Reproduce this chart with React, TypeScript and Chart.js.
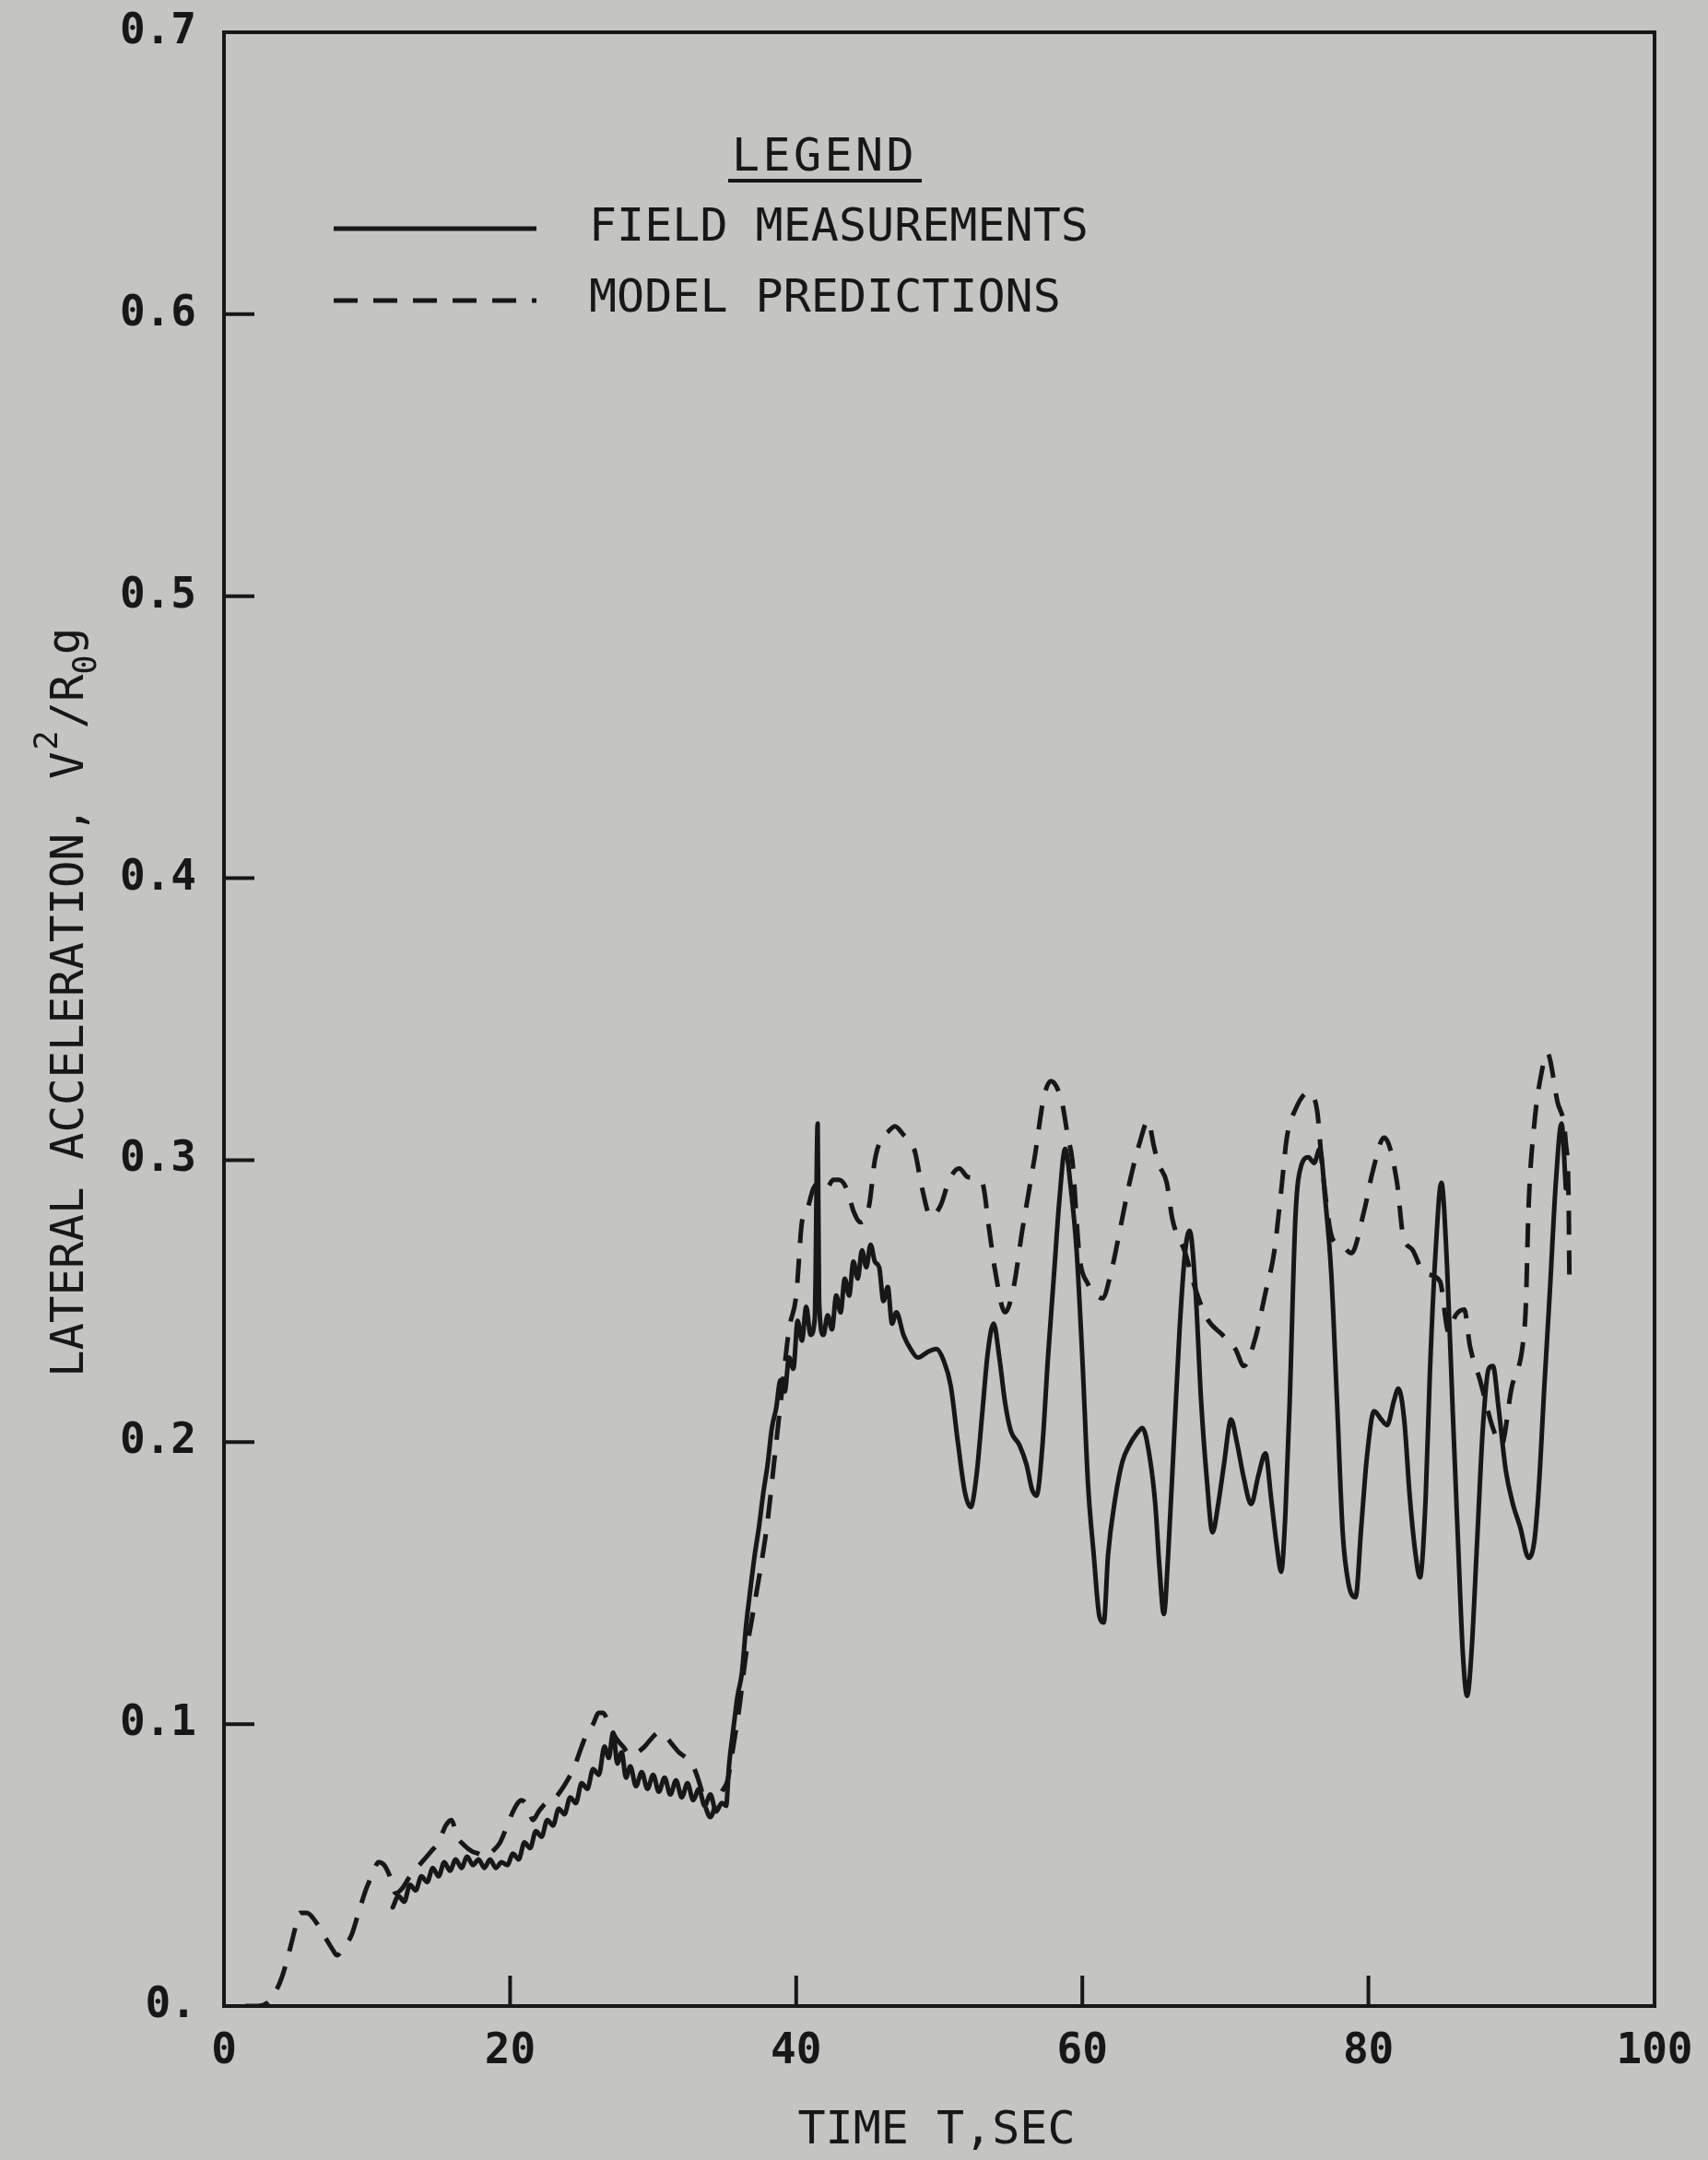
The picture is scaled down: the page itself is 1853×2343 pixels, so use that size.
import { useEffect, useRef } from "react";
import { Chart, registerables } from "chart.js";

Chart.register(...registerables);

// Lateral acceleration record: measured on the test curve vs. model output.
const fieldTime = [
  11.8, 12.2, 12.6, 13.0, 13.4, 13.8, 14.2, 14.6, 15.0, 15.4, 15.8, 16.2, 16.6, 17.0, 17.4, 17.8,
  18.2, 18.6, 19.0, 19.4, 19.8, 20.2, 20.6, 21.0, 21.4, 21.8, 22.2, 22.6, 23.0, 23.4, 23.8, 24.2,
  24.6, 25.0, 25.4, 25.8, 26.2, 26.6, 26.9, 27.2, 27.5, 27.8, 28.1, 28.4, 28.8, 29.2, 29.6, 30.0,
  30.4, 30.8, 31.2, 31.6, 32.0, 32.4, 32.8, 33.2, 33.6, 34.0, 34.4, 34.8, 35.1, 35.3, 35.6, 35.9,
  36.2, 36.5, 36.8, 37.1, 37.4, 37.7, 38.0, 38.3, 38.6, 38.9, 39.2, 39.5, 39.8, 40.1, 40.4, 40.7,
  41.0, 41.3, 41.5, 41.6, 41.9, 42.2, 42.5, 42.8, 43.1, 43.4, 43.7, 44.0, 44.3, 44.6, 44.9, 45.2,
  45.5, 45.8, 46.1, 46.4, 46.7, 47.0, 47.5, 48.0, 48.5, 49.2, 49.8, 50.3, 50.8, 51.3, 51.8, 52.2,
  52.6, 53.0, 53.4, 53.8, 54.2, 54.6, 55.0, 55.6, 56.1, 56.5, 56.8, 57.2, 57.6, 58.0, 58.4, 58.8,
  59.2, 59.6, 60.0, 60.4, 60.8, 61.2, 61.5, 61.8, 62.3, 62.8, 63.3, 63.8, 64.2, 64.7, 65.1, 65.4,
  65.7, 66.0, 66.4, 66.8, 67.2, 67.5, 67.9, 68.3, 68.7, 69.1, 69.5, 69.9, 70.4, 70.8, 71.3, 71.8,
  72.3, 72.8, 73.2, 73.6, 73.9, 74.2, 74.5, 74.9, 75.3, 75.8, 76.2, 76.6, 77.0, 77.4, 77.8, 78.2,
  78.6, 79.1, 79.5, 79.9, 80.4, 80.9, 81.3, 81.8, 82.1, 82.5, 82.9, 83.3, 83.6, 84.0, 84.3, 84.7,
  85.1, 85.5, 85.9, 86.3, 86.6, 86.9, 87.2, 87.6, 88.0, 88.4, 88.7, 89.1, 89.6, 90.1, 90.6, 91.2,
  91.6, 91.9, 92.3, 92.7, 93.1, 93.5, 93.8,
];
const fieldAccel = [
  0.035, 0.039, 0.037, 0.043, 0.041, 0.046, 0.044, 0.049, 0.046, 0.051, 0.048, 0.052, 0.049, 0.053, 0.05, 0.052,
  0.049, 0.052, 0.049, 0.051, 0.05, 0.054, 0.052, 0.058, 0.056, 0.062, 0.06, 0.066, 0.064, 0.07, 0.068, 0.074,
  0.072, 0.079, 0.077, 0.084, 0.082, 0.092, 0.088, 0.097, 0.086, 0.09, 0.081, 0.085, 0.078, 0.083, 0.077, 0.082,
  0.076, 0.081, 0.075, 0.08, 0.074, 0.079, 0.073, 0.077, 0.071, 0.075, 0.069, 0.072, 0.071, 0.085, 0.098, 0.11,
  0.118, 0.135, 0.148, 0.16, 0.17, 0.182, 0.192, 0.205, 0.212, 0.222, 0.218, 0.23, 0.226, 0.243, 0.236, 0.248,
  0.238, 0.244, 0.313, 0.25, 0.238, 0.245, 0.24, 0.252, 0.246, 0.258, 0.252, 0.264, 0.258, 0.268, 0.262, 0.27,
  0.264, 0.262, 0.25, 0.255, 0.242, 0.246, 0.238, 0.233, 0.23, 0.232, 0.233, 0.229, 0.22, 0.2, 0.182, 0.177,
  0.188, 0.21, 0.232, 0.242, 0.23, 0.214, 0.204, 0.199, 0.192, 0.183, 0.181, 0.198, 0.23, 0.258, 0.286, 0.304,
  0.29, 0.268, 0.23, 0.185, 0.16, 0.138, 0.136, 0.16, 0.18, 0.193, 0.199, 0.203, 0.205, 0.195, 0.178, 0.155,
  0.139, 0.16, 0.2, 0.24, 0.268, 0.275, 0.255, 0.215, 0.187, 0.168, 0.178, 0.192, 0.208, 0.2, 0.187, 0.178,
  0.188, 0.196, 0.18, 0.163, 0.154, 0.175, 0.215, 0.28, 0.298, 0.301, 0.299, 0.304, 0.285, 0.26, 0.215, 0.168,
  0.15, 0.145, 0.17, 0.195, 0.211, 0.208, 0.206, 0.215, 0.219, 0.208, 0.18, 0.16, 0.152, 0.18, 0.225, 0.268,
  0.292, 0.262, 0.21, 0.16, 0.125, 0.11, 0.125, 0.165, 0.205, 0.226, 0.227, 0.212, 0.19, 0.178, 0.17, 0.159,
  0.165, 0.183, 0.22, 0.255, 0.292, 0.313, 0.29,
];

const modelTime = [
  1.5, 2.4, 3.0, 3.6, 4.1, 4.6, 5.0, 5.3, 5.8, 6.4, 7.0, 7.6, 7.9, 8.4, 8.9, 9.4, 9.9, 10.4, 10.8, 11.2,
  11.6, 12.0, 12.5, 13.0, 13.5, 14.0, 14.5, 15.0, 15.5, 15.9, 16.3, 16.8, 17.3, 17.8, 18.3, 18.8, 19.3, 19.8,
  20.3, 20.8, 21.2, 21.6, 22.0, 22.5, 23.0, 23.5, 24.0, 24.5, 25.0, 25.4, 25.8, 26.2, 26.5, 26.9, 27.4, 27.9,
  28.4, 28.9, 29.4, 29.9, 30.4, 30.8, 31.3, 31.8, 32.3, 32.8, 33.3, 33.7, 34.0, 34.4, 34.8, 35.2, 35.6, 36.0,
  36.5, 37.0, 37.5, 38.0, 38.5, 39.0, 39.5, 40.0, 40.4, 40.8, 41.2, 41.7, 42.1, 42.6, 43.0, 43.6, 44.0, 44.5,
  45.1, 45.5, 46.0, 46.4, 46.9, 47.5, 48.0, 48.3, 48.8, 49.4, 50.1, 50.7, 51.4, 52.0, 53.0, 53.5, 53.9, 54.6,
  55.2, 55.8, 56.3, 56.7, 57.3, 57.8, 58.2, 58.6, 59.0, 59.3, 59.8, 60.4, 60.8, 61.4, 62.0, 62.7, 63.3, 64.0,
  64.6, 65.0, 65.3, 65.9, 66.3, 67.2, 67.8, 68.7, 69.8, 70.7, 71.3, 72.1, 72.8, 73.4, 73.9, 74.3, 74.9, 75.8,
  76.4, 76.8, 77.5, 78.1, 78.8, 79.7, 80.3, 81.1, 82.0, 82.4, 83.1, 83.9, 85.0, 85.6, 86.1, 86.7, 87.1, 87.8,
  88.7, 89.3, 90.0, 90.8, 91.0, 91.2, 91.6, 92.1, 92.5, 93.2, 93.8, 94.0, 94.05,
];
const modelAccel = [
  0.0, 0.0, 0.001, 0.005, 0.011, 0.02, 0.028, 0.033, 0.033, 0.03, 0.025, 0.02, 0.018, 0.021, 0.025, 0.033, 0.041, 0.047, 0.051, 0.05,
  0.046, 0.04, 0.042, 0.046, 0.049, 0.052, 0.055, 0.058, 0.064, 0.066, 0.06, 0.057, 0.055, 0.054, 0.053, 0.055, 0.058, 0.064,
  0.07, 0.073, 0.071, 0.066, 0.069, 0.072, 0.073, 0.076, 0.08, 0.085, 0.092, 0.097, 0.1, 0.104, 0.104, 0.1, 0.095, 0.092,
  0.089, 0.09, 0.092, 0.095, 0.097, 0.096, 0.093, 0.09, 0.088, 0.085, 0.078, 0.07, 0.067, 0.072, 0.076, 0.08, 0.092, 0.105,
  0.125, 0.14, 0.155, 0.172, 0.195, 0.218, 0.24, 0.252, 0.278, 0.283, 0.29, 0.292, 0.29, 0.293, 0.293, 0.289, 0.282, 0.278,
  0.284, 0.3, 0.308, 0.31, 0.312, 0.309, 0.306, 0.303, 0.29, 0.28, 0.284, 0.293, 0.297, 0.294, 0.292, 0.275, 0.261, 0.246,
  0.255, 0.275, 0.29, 0.302, 0.322, 0.328, 0.326, 0.32, 0.308, 0.3, 0.266, 0.256, 0.253, 0.251, 0.26, 0.277, 0.292, 0.306,
  0.314, 0.305, 0.299, 0.292, 0.279, 0.267, 0.256, 0.244, 0.238, 0.233, 0.227, 0.237, 0.253, 0.267, 0.289, 0.308, 0.318, 0.324,
  0.318, 0.296, 0.272, 0.27, 0.267, 0.282, 0.296, 0.308, 0.292, 0.274, 0.268, 0.26, 0.257, 0.239, 0.245, 0.247, 0.234, 0.222,
  0.205, 0.199, 0.219, 0.235, 0.248, 0.284, 0.313, 0.331, 0.338, 0.321, 0.306, 0.284, 0.257,
];

const timeTicks = [0, 20, 40, 60, 80, 100];
const timeTickLabels = ["0", "20", "40", "60", "80", "100"];
const accelTicks = [0, 0.1, 0.2, 0.3, 0.4, 0.5, 0.6, 0.7];
const accelTickLabels = ["0.", "0.1", "0.2", "0.3", "0.4", "0.5", "0.6", "0.7"];

const seriesNames = ["FIELD MEASUREMENTS", "MODEL PREDICTIONS"];
const legendTitle = "LEGEND";
const xTitle = "TIME T,SEC";

const W = 1853;
const H = 2343;
const PAPER = "#c4c4c2";
const INK = "#171717";
const MONO = '"DejaVu Sans Mono", monospace';
const DASH = [26, 17];

const pairs = (xs: number[], ys: number[]) => xs.map((x, i) => ({ x, y: ys[i] }));

const framePlugin = {
  id: "plotterFrame",
  beforeDraw(chart: any) {
    const ctx = chart.ctx;
    ctx.save();
    ctx.fillStyle = PAPER;
    ctx.fillRect(0, 0, chart.width, chart.height);
    ctx.restore();
  },
  afterDraw(chart: any) {
    const { ctx, chartArea: a, scales } = chart;
    ctx.save();
    ctx.strokeStyle = INK;
    ctx.fillStyle = INK;

    // plot frame
    ctx.lineWidth = 4;
    ctx.strokeRect(a.left, a.top, a.right - a.left, a.bottom - a.top);

    // inward tick marks
    ctx.lineWidth = 4;
    for (const v of accelTicks) {
      const y = scales.y.getPixelForValue(v);
      ctx.beginPath();
      ctx.moveTo(a.left, y);
      ctx.lineTo(a.left + 33, y);
      ctx.stroke();
    }
    for (const v of timeTicks) {
      const x = scales.x.getPixelForValue(v);
      ctx.beginPath();
      ctx.moveTo(x, a.bottom);
      ctx.lineTo(x, a.bottom - 33);
      ctx.stroke();
    }

    // legend block
    ctx.textBaseline = "middle";
    ctx.textAlign = "left";
    ctx.font = `50px ${MONO}`;
    const legX = 794;
    for (let i = 0; i < legendTitle.length; i++) {
      ctx.fillText(legendTitle[i], legX + i * 33.5, 172);
    }
    ctx.lineWidth = 4;
    ctx.beginPath();
    ctx.moveTo(790, 196);
    ctx.lineTo(1000, 196);
    ctx.stroke();

    ctx.lineWidth = 5;
    ctx.beginPath();
    ctx.moveTo(362, 248);
    ctx.lineTo(582, 248);
    ctx.stroke();
    ctx.setLineDash(DASH);
    ctx.beginPath();
    ctx.moveTo(362, 326);
    ctx.lineTo(582, 326);
    ctx.stroke();
    ctx.setLineDash([]);
    ctx.fillText(seriesNames[0], 639, 248);
    ctx.fillText(seriesNames[1], 639, 325);

    // x axis title
    ctx.textAlign = "center";
    ctx.textBaseline = "alphabetic";
    ctx.font = `50px ${MONO}`;
    ctx.fillText(xTitle, 1016, 2325);

    // y axis title with superscript / subscript
    ctx.save();
    ctx.translate(90, 1494);
    ctx.rotate(-Math.PI / 2);
    ctx.textAlign = "left";
    const big = `49px ${MONO}`;
    const small = `35px ${MONO}`;
    let x = 0;
    const part = (txt: string, font: string, dy: number, gap = 0) => {
      ctx.font = font;
      ctx.fillText(txt, x + gap, dy);
      x += gap + ctx.measureText(txt).width;
    };
    part("LATERAL ACCELERATION, V", big, 0);
    part("2", small, -28, 2);
    part("/R", big, 0, 2);
    part("0", small, 14, 0);
    part("g", big, -4, 0);
    ctx.restore();

    ctx.restore();
  },
};

export default function App() {
  const canvasRef = useRef<HTMLCanvasElement | null>(null);

  useEffect(() => {
    document.body.style.margin = "0";
    document.body.style.background = PAPER;
    const canvas = canvasRef.current;
    if (!canvas) return;

    const tickFont = { family: MONO, size: 46, weight: "bold" as const };

    const chart = new Chart(canvas, {
      type: "scatter",
      data: {
        datasets: [
          {
            label: seriesNames[0],
            data: pairs(fieldTime, fieldAccel),
            showLine: true,
            borderColor: INK,
            borderWidth: 5,
            pointRadius: 0,
            cubicInterpolationMode: "monotone",
            borderJoinStyle: "round",
            borderCapStyle: "round",
          },
          {
            label: seriesNames[1],
            data: pairs(modelTime, modelAccel),
            showLine: true,
            borderColor: INK,
            borderWidth: 5,
            borderDash: DASH,
            pointRadius: 0,
            cubicInterpolationMode: "monotone",
          },
        ],
      },
      options: {
        animation: false,
        responsive: false,
        devicePixelRatio: 1,
        layout: { padding: { left: 0, top: 35, right: 58, bottom: 0 } },
        plugins: {
          legend: { display: false },
          tooltip: { enabled: false },
        },
        scales: {
          x: {
            type: "linear",
            min: 0,
            max: 100,
            afterBuildTicks: (s: any) => {
              s.ticks = timeTicks.map((value) => ({ value }));
            },
            afterFit: (s: any) => {
              s.height = H - 2176;
              s.paddingLeft = 0;
              s.paddingRight = 0;
            },
            ticks: {
              color: INK,
              font: tickFont,
              padding: 22,
              maxRotation: 0,
              autoSkip: false,
              callback: (_v: any, i: number) => timeTickLabels[i],
            },
            grid: { display: false, drawTicks: false },
            border: { display: false },
          },
          y: {
            type: "linear",
            min: 0,
            max: 0.7,
            afterBuildTicks: (s: any) => {
              s.ticks = accelTicks.map((value) => ({ value }));
            },
            afterFit: (s: any) => {
              s.width = 243;
              s.paddingTop = 0;
              s.paddingBottom = 0;
            },
            ticks: {
              color: INK,
              font: tickFont,
              padding: 30,
              autoSkip: false,
              callback: (_v: any, i: number) => accelTickLabels[i],
            },
            grid: { display: false, drawTicks: false },
            border: { display: false },
          },
        },
      },
      plugins: [framePlugin],
    });

    return () => chart.destroy();
  }, []);

  return (
    <div style={{ position: "absolute", left: 0, top: 0, width: W, height: H, background: PAPER }}>
      <canvas ref={canvasRef} width={W} height={H} style={{ display: "block", width: W, height: H }} />
    </div>
  );
}
